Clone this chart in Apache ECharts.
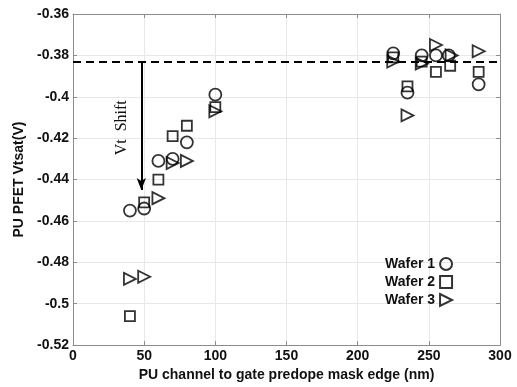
<!DOCTYPE html>
<html>
<head>
<meta charset="utf-8">
<script src="https://cdn.jsdelivr.net/npm/echarts@6/dist/echarts.min.js"></script>
<style>
    html, body { margin: 0; padding: 0; background: #fff; }
    #chart { width: 517px; height: 387px; }
</style>
</head>
<body>
<div id="chart"></div>
<script>
// 数据
const wafer1 = [
    [40, -0.455], [50, -0.454], [60, -0.431], [70, -0.430], [80, -0.422],
    [100, -0.399], [225, -0.379], [235, -0.398], [245, -0.380],
    [255, -0.380], [264, -0.380], [285, -0.394]
];
const wafer2 = [
    [40, -0.506], [50, -0.451], [60, -0.440], [70, -0.419], [80, -0.414],
    [100, -0.405], [225, -0.381], [235, -0.395], [245, -0.383],
    [255, -0.388], [265, -0.385], [285, -0.388]
];
const wafer3 = [
    [40, -0.488], [50, -0.487], [60, -0.449], [70, -0.432], [80, -0.431],
    [100, -0.407], [225, -0.383], [235, -0.409], [245, -0.384],
    [255, -0.375], [266, -0.380], [285, -0.378]
];
const seriesNames = ['Wafer 1', 'Wafer 2', 'Wafer 3'];
const refLevel = -0.383;          // 虚线
const shiftArrow = [[48, -0.383], [48, -0.445]];
const shiftLabel = 'Vt  Shift';

const font = '"Liberation Sans", Arial, sans-serif';
const axisGrey = '#8c8c8c';
const gridGrey = '#e8e8e8';
// 向右的三角形
const rightTriangle = 'path://M0,0 L10,5 L0,10 Z';

const markerStyle = {
    color: 'rgba(0,0,0,0)',
    borderColor: '#000',
    borderWidth: 1.8
};

const chart = echarts.init(document.getElementById('chart'), null, { renderer: 'canvas' });

function boxAxis(extra) {
    return Object.assign({
        axisLine: { show: true, onZero: false, lineStyle: { color: axisGrey, width: 1 } },
        axisTick: { show: true, inside: true, length: 4, lineStyle: { color: axisGrey } },
        splitLine: { show: false },
        axisLabel: { show: false }
    }, extra);
}

const option = {
    animation: false,
    grid: { left: 73, top: 14, right: 17, bottom: 35, containLabel: false },
    legend: {
        orient: 'vertical',
        left: 380,
        top: 252,
        align: 'right',
        itemWidth: 12,
        itemHeight: 12,
        itemGap: 4,
        data: [
            { name: seriesNames[0], icon: 'circle' },
            { name: seriesNames[1], icon: 'rect' },
            { name: seriesNames[2], icon: rightTriangle }
        ],
        textStyle: { fontFamily: font, fontWeight: 'bold', fontSize: 14, color: '#111' }
    },
    xAxis: [
        {
            type: 'value', min: 0, max: 300, interval: 50,
            name: 'PU channel to gate predope mask edge (nm)',
            nameLocation: 'middle', nameGap: 19,
            nameTextStyle: { fontFamily: font, fontWeight: 'bold', fontSize: 14, color: '#111' },
            axisLine: { show: true, onZero: false, lineStyle: { color: axisGrey } },
            axisTick: { show: true, inside: true, length: 4, lineStyle: { color: axisGrey } },
            splitLine: { show: true, lineStyle: { color: gridGrey } },
            axisLabel: { fontFamily: font, fontWeight: 'bold', fontSize: 14, color: '#111', margin: 4 }
        },
        boxAxis({ type: 'value', position: 'top', min: 0, max: 300, interval: 50 })
    ],
    yAxis: [
        {
            type: 'value', min: -0.52, max: -0.36, interval: 0.02,
            name: 'PU PFET Vtsat(V)',
            nameLocation: 'middle', nameGap: 42,
            nameTextStyle: { fontFamily: font, fontWeight: 'bold', fontSize: 14, color: '#111' },
            axisLine: { show: true, onZero: false, lineStyle: { color: axisGrey } },
            axisTick: { show: true, inside: true, length: 4, lineStyle: { color: axisGrey } },
            splitLine: { show: true, lineStyle: { color: gridGrey } },
            axisLabel: { fontFamily: font, fontWeight: 'bold', fontSize: 14, color: '#111', margin: 4 }
        },
        boxAxis({ type: 'value', position: 'right', min: -0.52, max: -0.36, interval: 0.02 })
    ],
    series: [
        {
            name: seriesNames[0], type: 'scatter', symbol: 'circle', symbolSize: 12,
            itemStyle: markerStyle, data: wafer1, z: 3
        },
        {
            name: seriesNames[1], type: 'scatter', symbol: 'rect', symbolSize: 10,
            itemStyle: markerStyle, data: wafer2, z: 3
        },
        {
            name: seriesNames[2], type: 'scatter', symbol: rightTriangle, symbolSize: 12,
            itemStyle: markerStyle, data: wafer3, z: 3
        },
        {
            // 参考虚线 + Vt shift 箭头
            type: 'line', data: [], silent: true,
            markLine: {
                silent: true,
                animation: false,
                precision: 4,
                label: { show: false },
                data: [
                    {
                        yAxis: refLevel, symbol: 'none',
                        lineStyle: { type: [8, 5], color: '#000', width: 2 }
                    },
                    [
                        { coord: shiftArrow[0], symbol: 'none' },
                        { coord: shiftArrow[1], symbol: 'arrow', symbolSize: [7, 12] }
                    ]
                ],
                symbol: ['none', 'none'],
                lineStyle: { type: 'solid', color: '#000', width: 2 }
            }
        }
    ]
};

chart.setOption(option);

// Vt Shift 竖排文字
const labelPos = chart.convertToPixel({ xAxisIndex: 0, yAxisIndex: 0 }, [34, -0.415]);
chart.setOption({
    graphic: [{
        type: 'text',
        x: labelPos[0],
        y: labelPos[1],
        rotation: Math.PI / 2,
        style: {
            text: shiftLabel,
            fontFamily: '"Liberation Serif", "Times New Roman", serif',
            fontSize: 16,
            fill: '#111',
            align: 'center',
            verticalAlign: 'middle'
        }
    }]
});
</script>
</body>
</html>
